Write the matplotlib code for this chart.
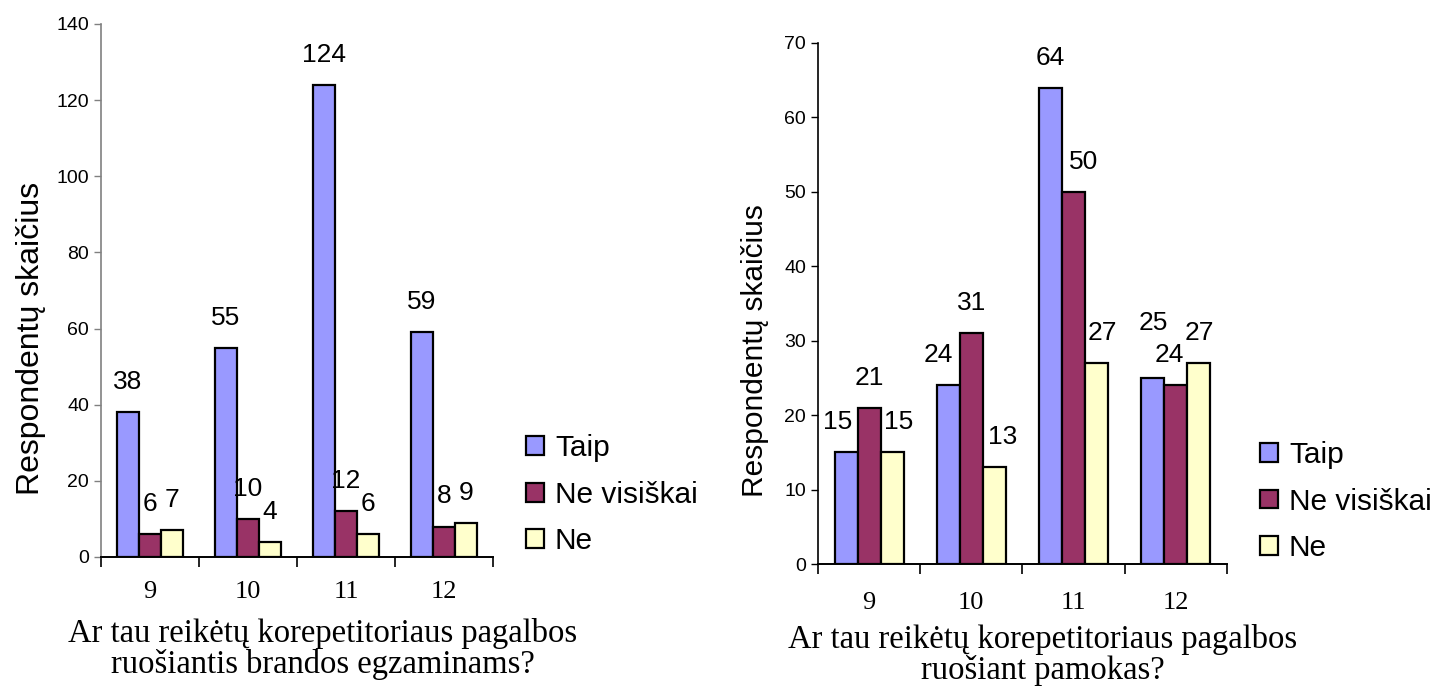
import matplotlib
matplotlib.use("Agg")
import matplotlib.pyplot as plt
import numpy as np

# data
grades = ["9", "10", "11", "12"]
series = ["Taip", "Ne visiškai", "Ne"]
colors = ["#9999FF", "#993366", "#FFFFCC"]

exam_taip = [38, 55, 124, 59]
exam_nevis = [6, 10, 12, 8]
exam_ne = [7, 4, 6, 9]

lesson_taip = [15, 24, 64, 25]
lesson_nevis = [21, 31, 50, 24]
lesson_ne = [15, 13, 27, 27]

ylab = "Respondentų skaičius"
xlab_left = "Ar tau reikėtų korepetitoriaus pagalbos\nruošiantis brandos egzaminams?"
xlab_right = "Ar tau reikėtų korepetitoriaus pagalbos\nruošiant pamokas?"

sans = "Liberation Sans"
serif = "Liberation Serif"

# small hand nudges of value labels (points), like in the original excel chart
nudge = {
    (1, 0, 0): (-6, 0), (1, 2, 0): (5, 0),
    (1, 0, 1): (-7, 0), (1, 2, 1): (6, 0),
    (1, 1, 2): (7, 0), (1, 2, 2): (4, 0),
    (1, 0, 3): (0, 18), (1, 1, 3): (-5, 0),
}

fig = plt.figure(figsize=(14.39, 6.89), dpi=100)


def draw(ax, k, vals, ymax, ystep, yspine_col, pad, ylab_xy, ylab_size):
    x = np.arange(len(grades))
    w = 0.225
    for i, v in enumerate(vals):
        bars = ax.bar(x + (i - 1) * w, v, w, color=colors[i], edgecolor="black",
                      linewidth=1.6, label=series[i], zorder=3)
        for j, (b, val) in enumerate(zip(bars, v)):
            dx, dy = nudge.get((k, i, j), (0, 0))
            ax.annotate(str(val), (b.get_x() + b.get_width() / 2, b.get_height()),
                        xytext=(dx, 13 + dy), textcoords="offset points", ha="center",
                        va="bottom", fontsize=19, family=sans)
    ax.set_xlim(-0.5, len(grades) - 0.5)
    ax.set_ylim(0, ymax)
    ax.set_yticks(np.arange(0, ymax + 1, ystep))
    ax.set_xticks(x)
    ax.set_xticklabels(grades, family=serif, fontsize=19)
    ax.set_xticks(np.arange(-0.5, len(grades)), minor=True)
    ax.tick_params(axis="x", which="major", length=0, pad=pad)
    ax.tick_params(axis="x", which="minor", length=7, width=1.2, color="black")
    ax.tick_params(axis="y", length=5, width=1.0, color=yspine_col, labelsize=14)
    for t in ax.get_yticklabels():
        t.set_family(sans)
    ax.spines["top"].set_visible(False)
    ax.spines["right"].set_visible(False)
    ax.spines["left"].set_color(yspine_col)
    ax.spines["left"].set_linewidth(1.2)
    ax.spines["bottom"].set_linewidth(1.4)
    ax.set_ylabel(ylab, family=sans, fontsize=ylab_size)
    ax.yaxis.set_label_coords(*ylab_xy)


ax1 = fig.add_axes([0.0702, 0.1916, 0.2724, 0.7736])
draw(ax1, 0, [exam_taip, exam_nevis, exam_ne], 140, 20, "#808080", 17, (-0.14, 0.41), 23)

ax2 = fig.add_axes([0.5684, 0.1814, 0.2843, 0.7562])
draw(ax2, 1, [lesson_taip, lesson_nevis, lesson_ne], 70, 10, "black", 20, (-0.12, 0.41), 21.5)

leg_kw = dict(frameon=False, handlelength=0.6, handleheight=0.6,
              handletextpad=0.37, labelspacing=0.62, borderpad=0, borderaxespad=0,
              loc="center left", prop={"family": sans, "size": 21.5})
h1, l1 = ax1.get_legend_handles_labels()
fig.legend(h1, l1, bbox_to_anchor=(0.3655, 0.2816), **leg_kw)
h2, l2 = ax2.get_legend_handles_labels()
fig.legend(h2, l2, bbox_to_anchor=(0.8756, 0.2721), **leg_kw)

fig.text(0.2245, 1 - 649 / 689, xlab_left, ha="center", va="center", family=serif,
         fontsize=23.5, linespacing=1.0)
fig.text(1043 / 1439, 1 - 655 / 689, xlab_right, ha="center", va="center", family=serif,
         fontsize=23.5, linespacing=1.0)

fig.savefig("out.png", dpi=100)
